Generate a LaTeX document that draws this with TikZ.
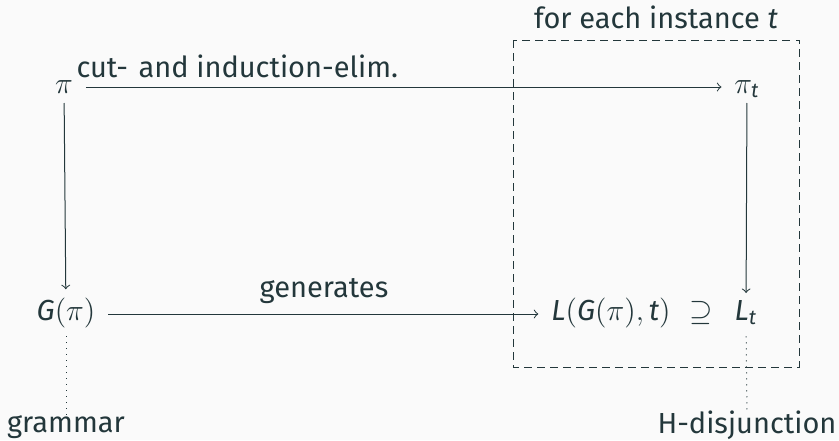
\documentclass[tikz,border=0pt]{standalone}
\usepackage{fontspec}
\setmainfont{Fira Sans}
\definecolor{mDark}{HTML}{23373B}
\definecolor{mBg}{HTML}{FAFAFA}
\begin{document}
\begin{tikzpicture}[x=0.4pt,y=-0.4pt,
  every node/.style={text=mDark},
  font=\fontsize{11.6}{13.5}\selectfont,
  obj/.style={inner xsep=5pt, inner ysep=1.2pt, text height=0.75em, text depth=0.25em},
  arr/.style={draw=mDark, line width=0.4pt, ->},
  dotline/.style={draw=mDark, line width=0.4pt, dotted},
  boxline/.style={draw=mDark, line width=0.4pt, dash pattern=on 3pt off 2.2pt},
  lbl/.style={anchor=base, inner sep=0pt}]
\fill[mBg] (0,0) rectangle (839,440);
\useasboundingbox (0,0) rectangle (839,440);
% objects
\node[obj] (pi) at (64,87) {$\pi$};
\node[obj] (pit) at (747,87) {$\pi_{\mathit{t}}$};
\node[obj] (G) at (66,314) {$\mathit{G}(\pi)$};
\node[obj] (LG) at (611,314) {$\mathit{L}(\mathit{G}(\pi),\mathit{t})$};
\node[obj] (sup) at (701,314) {$\supseteq$};
\node[obj] (Lt) at (746,314) {$\mathit{L}_{\mathit{t}}$};
% labels
\node[lbl] (gram) at (66,432) {grammar};
\node[lbl] (hdis) at (747,433) {H-disjunction};
\node[lbl] (inst) at (656,28) {for each instance $\mathit{t}$};
\node[lbl, anchor=base west] (cut) at (76,77) {cut-\hspace{0.1em} and induction-elim.};
\node[lbl] (gen) at (324,297) {generates};
% dashed box
\coordinate (bxA) at (513,40);
\coordinate (bxB) at (799,367);
\draw[boxline] (bxA) rectangle (bxB);
% connectors
\draw[arr] (pi) -- (pit);
\draw[arr] (G) -- (LG);
\draw[arr, shorten >=3.5pt] (pi) -- (G);
\draw[arr, shorten >=2pt] (pit) -- (Lt);
\draw[dotline, shorten <=2.5pt] (G) -- (gram);
\draw[dotline, shorten <=2.5pt] (Lt) -- (hdis);
\end{tikzpicture}
\end{document}
